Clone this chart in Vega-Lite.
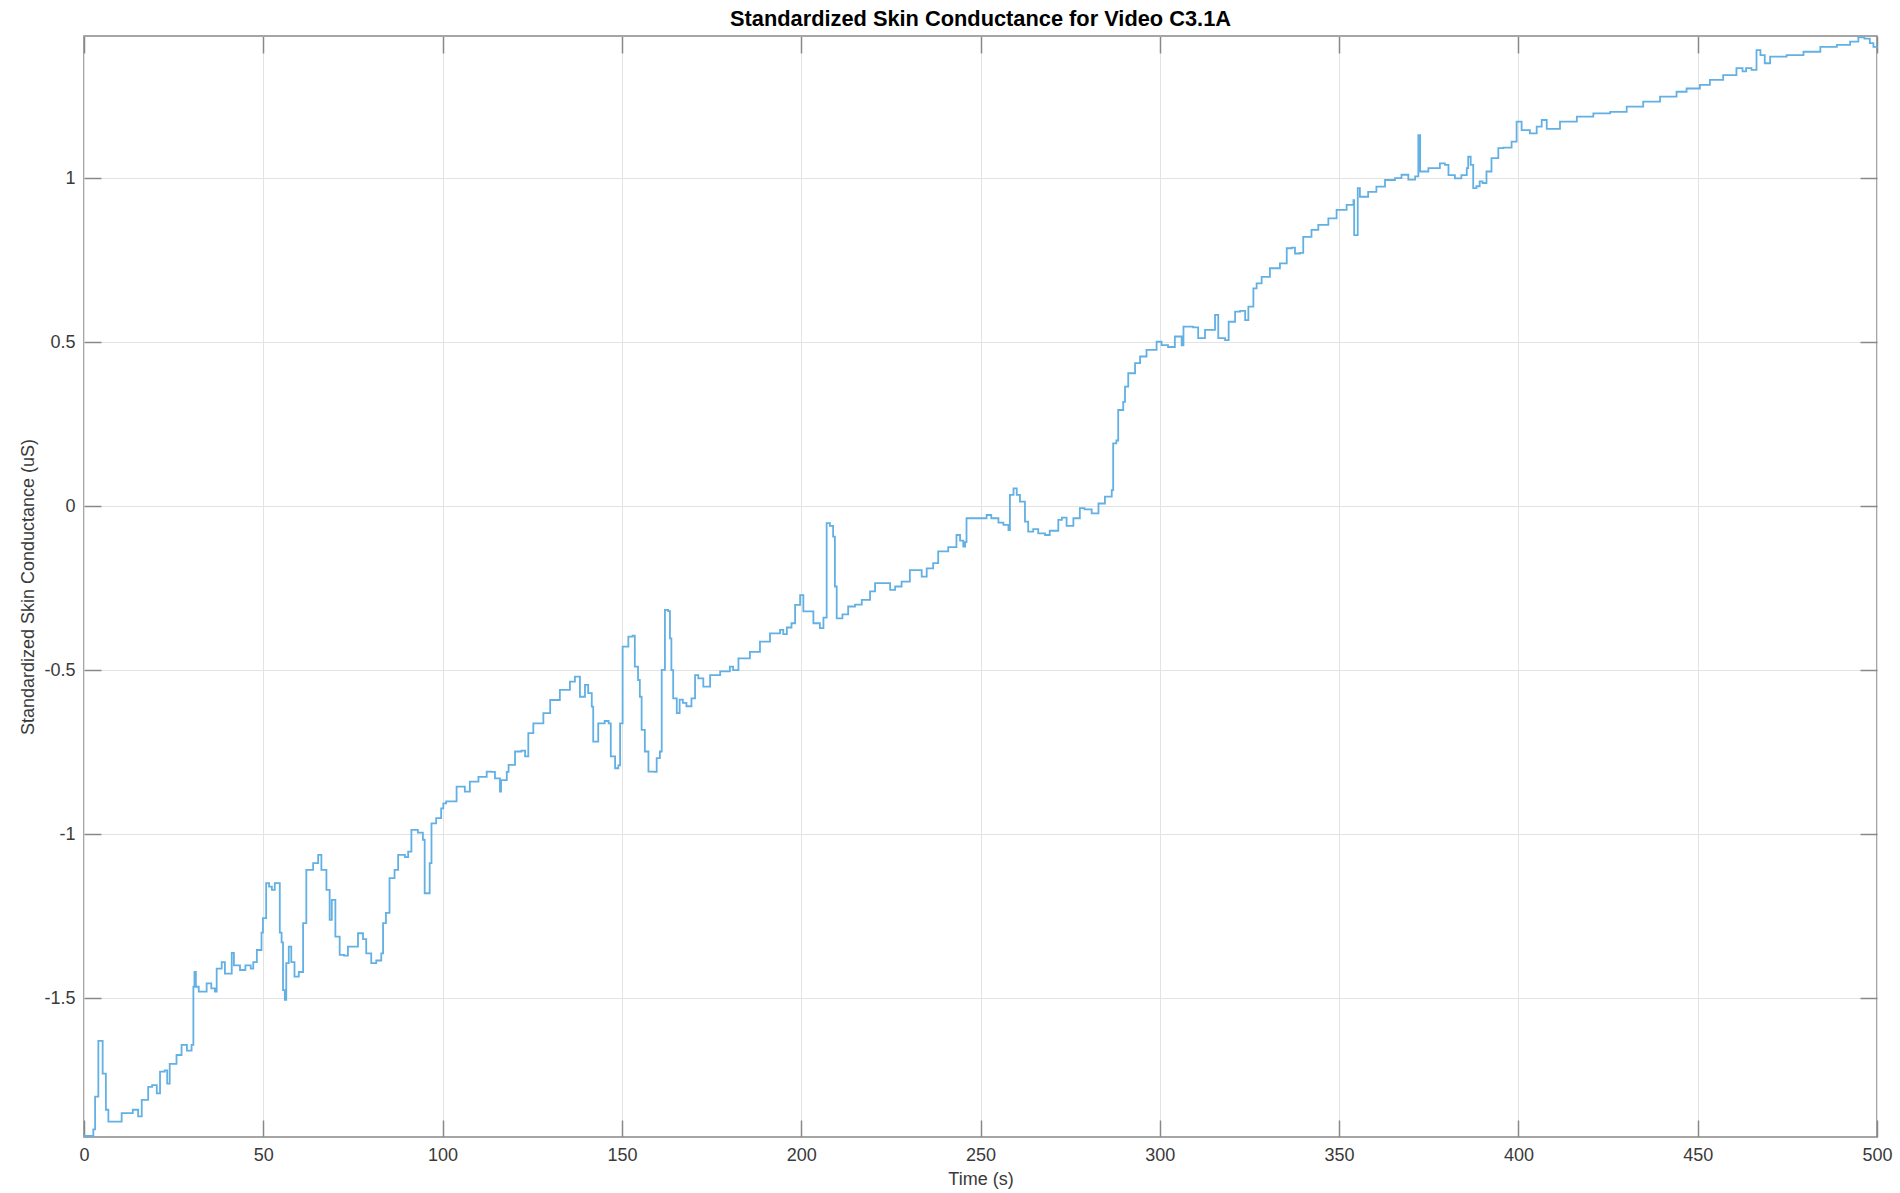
{
  "$schema": "https://vega.github.io/schema/vega-lite/v6.json",
  "width": 1793,
  "height": 1101,
  "autosize": {"type": "none"},
  "padding": {"left": 84, "top": 36, "right": 23, "bottom": 56},
  "background": "white",
  "title": {"text": "Standardized Skin Conductance for Video C3.1A", "font": "Liberation Sans", "fontSize": 21.8, "fontWeight": "bold", "color": "#000000", "anchor": "middle", "offset": 3},
  "config": {
    "view": {"stroke": "#888888", "strokeWidth": 1.5},
    "axis": {"labelFont": "Liberation Sans", "titleFont": "Liberation Sans", "labelFontSize": 18, "titleFontSize": 18, "titleFontWeight": "normal", "labelColor": "#3a3a3a", "titleColor": "#3a3a3a", "tickColor": "#888888", "tickWidth": 1.5, "domain": false, "gridColor": "#e3e3e3", "gridWidth": 1, "labelFlush": false, "labelOverlap": false}
  },
  "data": {"values": [
    {"time": 0, "sc": -1.92}, {"time": 2.6, "sc": -1.9}, {"time": 3.1, "sc": -1.8}, {"time": 4.0, "sc": -1.63}, {"time": 5.2, "sc": -1.73}, {"time": 6.1, "sc": -1.84}, {"time": 6.8, "sc": -1.876}, {"time": 10.5, "sc": -1.85}, {"time": 13.6, "sc": -1.84}, {"time": 15.1, "sc": -1.86}, {"time": 16.1, "sc": -1.81}, {"time": 17.9, "sc": -1.77}, {"time": 19.0, "sc": -1.765}, {"time": 20.3, "sc": -1.79}, {"time": 21.2, "sc": -1.724}, {"time": 22.5, "sc": -1.72}, {"time": 23.2, "sc": -1.76}, {"time": 23.9, "sc": -1.7}, {"time": 25.8, "sc": -1.673}, {"time": 27.2, "sc": -1.642}, {"time": 28.7, "sc": -1.66}, {"time": 30.0, "sc": -1.642}, {"time": 30.5, "sc": -1.465}, {"time": 30.8, "sc": -1.42}, {"time": 31.2, "sc": -1.465}, {"time": 32.0, "sc": -1.48}, {"time": 34.2, "sc": -1.455}, {"time": 35.5, "sc": -1.47}, {"time": 36.5, "sc": -1.48}, {"time": 37.0, "sc": -1.41}, {"time": 38.4, "sc": -1.39}, {"time": 39.3, "sc": -1.425}, {"time": 41.2, "sc": -1.362}, {"time": 41.8, "sc": -1.4}, {"time": 43.5, "sc": -1.414}, {"time": 45.0, "sc": -1.4}, {"time": 46.5, "sc": -1.41}, {"time": 47.2, "sc": -1.39}, {"time": 48.2, "sc": -1.353}, {"time": 49.5, "sc": -1.3}, {"time": 49.9, "sc": -1.256}, {"time": 50.8, "sc": -1.149}, {"time": 51.6, "sc": -1.16}, {"time": 52.4, "sc": -1.17}, {"time": 53.2, "sc": -1.149}, {"time": 54.6, "sc": -1.3}, {"time": 55.1, "sc": -1.33}, {"time": 55.5, "sc": -1.475}, {"time": 56.0, "sc": -1.505}, {"time": 56.4, "sc": -1.393}, {"time": 57.1, "sc": -1.343}, {"time": 57.8, "sc": -1.39}, {"time": 58.7, "sc": -1.434}, {"time": 59.9, "sc": -1.42}, {"time": 61.1, "sc": -1.271}, {"time": 62.0, "sc": -1.109}, {"time": 63.9, "sc": -1.088}, {"time": 65.3, "sc": -1.063}, {"time": 66.2, "sc": -1.109}, {"time": 67.6, "sc": -1.17}, {"time": 68.5, "sc": -1.261}, {"time": 69.1, "sc": -1.2}, {"time": 70.1, "sc": -1.312}, {"time": 71.3, "sc": -1.368}, {"time": 72.5, "sc": -1.37}, {"time": 73.6, "sc": -1.343}, {"time": 75.9, "sc": -1.343}, {"time": 76.4, "sc": -1.302}, {"time": 77.8, "sc": -1.32}, {"time": 78.7, "sc": -1.363}, {"time": 80.1, "sc": -1.393}, {"time": 81.5, "sc": -1.385}, {"time": 82.9, "sc": -1.363}, {"time": 83.4, "sc": -1.271}, {"time": 84.2, "sc": -1.24}, {"time": 85.2, "sc": -1.134}, {"time": 86.6, "sc": -1.109}, {"time": 87.6, "sc": -1.063}, {"time": 89.5, "sc": -1.07}, {"time": 90.4, "sc": -1.053}, {"time": 91.3, "sc": -0.987}, {"time": 93.1, "sc": -0.995}, {"time": 94.5, "sc": -1.017}, {"time": 95.0, "sc": -1.18}, {"time": 95.9, "sc": -1.18}, {"time": 96.4, "sc": -1.088}, {"time": 96.9, "sc": -0.967}, {"time": 98.2, "sc": -0.951}, {"time": 99.6, "sc": -0.921}, {"time": 100.2, "sc": -0.906}, {"time": 101.0, "sc": -0.9}, {"time": 103.9, "sc": -0.855}, {"time": 106.2, "sc": -0.87}, {"time": 107.6, "sc": -0.84}, {"time": 110.0, "sc": -0.825}, {"time": 112.3, "sc": -0.809}, {"time": 113.5, "sc": -0.81}, {"time": 114.6, "sc": -0.83}, {"time": 116.0, "sc": -0.87}, {"time": 116.3, "sc": -0.835}, {"time": 117.9, "sc": -0.81}, {"time": 118.4, "sc": -0.789}, {"time": 120.2, "sc": -0.748}, {"time": 122.0, "sc": -0.745}, {"time": 123.0, "sc": -0.763}, {"time": 123.9, "sc": -0.692}, {"time": 125.3, "sc": -0.662}, {"time": 128.1, "sc": -0.631}, {"time": 130.0, "sc": -0.591}, {"time": 132.7, "sc": -0.56}, {"time": 135.5, "sc": -0.535}, {"time": 136.9, "sc": -0.52}, {"time": 138.3, "sc": -0.581}, {"time": 139.3, "sc": -0.581}, {"time": 139.7, "sc": -0.545}, {"time": 140.6, "sc": -0.57}, {"time": 141.6, "sc": -0.611}, {"time": 142.0, "sc": -0.718}, {"time": 143.0, "sc": -0.718}, {"time": 143.4, "sc": -0.662}, {"time": 145.2, "sc": -0.655}, {"time": 146.3, "sc": -0.662}, {"time": 146.9, "sc": -0.763}, {"time": 148.1, "sc": -0.799}, {"time": 149.0, "sc": -0.79}, {"time": 149.5, "sc": -0.662}, {"time": 150.2, "sc": -0.428}, {"time": 151.8, "sc": -0.398}, {"time": 153.0, "sc": -0.395}, {"time": 153.6, "sc": -0.489}, {"time": 154.5, "sc": -0.53}, {"time": 155.0, "sc": -0.581}, {"time": 155.5, "sc": -0.682}, {"time": 156.4, "sc": -0.748}, {"time": 157.4, "sc": -0.809}, {"time": 159.0, "sc": -0.81}, {"time": 159.7, "sc": -0.768}, {"time": 160.6, "sc": -0.748}, {"time": 161.1, "sc": -0.499}, {"time": 162.0, "sc": -0.316}, {"time": 162.9, "sc": -0.32}, {"time": 163.4, "sc": -0.403}, {"time": 163.8, "sc": -0.5}, {"time": 164.3, "sc": -0.586}, {"time": 165.3, "sc": -0.631}, {"time": 166.1, "sc": -0.59}, {"time": 167.0, "sc": -0.6}, {"time": 168.0, "sc": -0.61}, {"time": 169.4, "sc": -0.586}, {"time": 170.4, "sc": -0.515}, {"time": 171.3, "sc": -0.525}, {"time": 172.7, "sc": -0.55}, {"time": 174.6, "sc": -0.515}, {"time": 177.4, "sc": -0.504}, {"time": 180.1, "sc": -0.489}, {"time": 181.0, "sc": -0.5}, {"time": 182.5, "sc": -0.464}, {"time": 185.7, "sc": -0.444}, {"time": 188.5, "sc": -0.413}, {"time": 191.3, "sc": -0.388}, {"time": 194.1, "sc": -0.377}, {"time": 195.0, "sc": -0.39}, {"time": 196.0, "sc": -0.37}, {"time": 197.3, "sc": -0.357}, {"time": 198.3, "sc": -0.301}, {"time": 199.7, "sc": -0.271}, {"time": 200.6, "sc": -0.321}, {"time": 203.4, "sc": -0.357}, {"time": 205.2, "sc": -0.372}, {"time": 206.2, "sc": -0.34}, {"time": 207.1, "sc": -0.052}, {"time": 208.0, "sc": -0.06}, {"time": 208.9, "sc": -0.093}, {"time": 209.4, "sc": -0.245}, {"time": 209.9, "sc": -0.342}, {"time": 211.5, "sc": -0.33}, {"time": 213.1, "sc": -0.306}, {"time": 215.0, "sc": -0.3}, {"time": 216.9, "sc": -0.286}, {"time": 219.2, "sc": -0.26}, {"time": 220.6, "sc": -0.235}, {"time": 223.2, "sc": -0.235}, {"time": 224.8, "sc": -0.255}, {"time": 226.2, "sc": -0.245}, {"time": 228.0, "sc": -0.23}, {"time": 230.3, "sc": -0.195}, {"time": 232.1, "sc": -0.195}, {"time": 233.6, "sc": -0.215}, {"time": 235.0, "sc": -0.19}, {"time": 236.8, "sc": -0.174}, {"time": 238.2, "sc": -0.138}, {"time": 241.0, "sc": -0.125}, {"time": 243.3, "sc": -0.088}, {"time": 244.3, "sc": -0.105}, {"time": 245.2, "sc": -0.123}, {"time": 245.7, "sc": -0.11}, {"time": 246.1, "sc": -0.037}, {"time": 249.4, "sc": -0.037}, {"time": 251.7, "sc": -0.027}, {"time": 253.0, "sc": -0.037}, {"time": 255.0, "sc": -0.05}, {"time": 256.4, "sc": -0.057}, {"time": 257.8, "sc": -0.073}, {"time": 258.2, "sc": 0.034}, {"time": 259.2, "sc": 0.054}, {"time": 260.1, "sc": 0.034}, {"time": 261.0, "sc": 0.014}, {"time": 262.0, "sc": 0.014}, {"time": 262.4, "sc": -0.047}, {"time": 263.3, "sc": -0.078}, {"time": 264.7, "sc": -0.07}, {"time": 266.1, "sc": -0.083}, {"time": 268.0, "sc": -0.088}, {"time": 269.3, "sc": -0.075}, {"time": 271.7, "sc": -0.042}, {"time": 272.7, "sc": -0.035}, {"time": 274.0, "sc": -0.06}, {"time": 275.9, "sc": -0.037}, {"time": 277.7, "sc": -0.006}, {"time": 279.0, "sc": -0.01}, {"time": 281.0, "sc": -0.022}, {"time": 282.9, "sc": 0.008}, {"time": 284.7, "sc": 0.029}, {"time": 286.6, "sc": 0.049}, {"time": 287.0, "sc": 0.191}, {"time": 287.9, "sc": 0.2}, {"time": 288.4, "sc": 0.293}, {"time": 289.8, "sc": 0.318}, {"time": 290.3, "sc": 0.364}, {"time": 291.2, "sc": 0.405}, {"time": 293.1, "sc": 0.436}, {"time": 294.5, "sc": 0.456}, {"time": 296.3, "sc": 0.476}, {"time": 299.1, "sc": 0.501}, {"time": 300.5, "sc": 0.491}, {"time": 302.3, "sc": 0.485}, {"time": 304.2, "sc": 0.517}, {"time": 306.1, "sc": 0.49}, {"time": 306.6, "sc": 0.547}, {"time": 309.3, "sc": 0.545}, {"time": 310.7, "sc": 0.512}, {"time": 312.6, "sc": 0.537}, {"time": 314.5, "sc": 0.537}, {"time": 315.4, "sc": 0.583}, {"time": 316.3, "sc": 0.512}, {"time": 318.2, "sc": 0.506}, {"time": 319.2, "sc": 0.562}, {"time": 321.0, "sc": 0.593}, {"time": 322.4, "sc": 0.595}, {"time": 323.8, "sc": 0.567}, {"time": 324.7, "sc": 0.608}, {"time": 326.1, "sc": 0.664}, {"time": 327.0, "sc": 0.679}, {"time": 328.4, "sc": 0.699}, {"time": 330.7, "sc": 0.725}, {"time": 333.5, "sc": 0.74}, {"time": 335.4, "sc": 0.786}, {"time": 336.8, "sc": 0.788}, {"time": 337.7, "sc": 0.77}, {"time": 339.1, "sc": 0.772}, {"time": 340.0, "sc": 0.821}, {"time": 342.3, "sc": 0.842}, {"time": 344.2, "sc": 0.857}, {"time": 347.0, "sc": 0.877}, {"time": 349.3, "sc": 0.903}, {"time": 352.1, "sc": 0.918}, {"time": 354.0, "sc": 0.933}, {"time": 354.2, "sc": 0.826}, {"time": 355.2, "sc": 0.969}, {"time": 355.8, "sc": 0.943}, {"time": 358.1, "sc": 0.958}, {"time": 360.4, "sc": 0.974}, {"time": 362.8, "sc": 0.994}, {"time": 365.6, "sc": 1.0}, {"time": 367.4, "sc": 1.01}, {"time": 369.3, "sc": 0.995}, {"time": 371.2, "sc": 1.005}, {"time": 372.1, "sc": 1.131}, {"time": 372.6, "sc": 1.02}, {"time": 374.9, "sc": 1.03}, {"time": 376.7, "sc": 1.03}, {"time": 378.1, "sc": 1.045}, {"time": 379.5, "sc": 1.04}, {"time": 380.5, "sc": 1.009}, {"time": 382.3, "sc": 0.999}, {"time": 384.1, "sc": 1.009}, {"time": 385.6, "sc": 1.03}, {"time": 386.0, "sc": 1.065}, {"time": 386.7, "sc": 1.04}, {"time": 387.4, "sc": 0.969}, {"time": 388.3, "sc": 0.975}, {"time": 389.2, "sc": 0.99}, {"time": 390.0, "sc": 0.985}, {"time": 391.1, "sc": 1.02}, {"time": 392.5, "sc": 1.061}, {"time": 394.4, "sc": 1.091}, {"time": 395.8, "sc": 1.093}, {"time": 398.1, "sc": 1.111}, {"time": 399.5, "sc": 1.172}, {"time": 400.9, "sc": 1.146}, {"time": 403.2, "sc": 1.136}, {"time": 405.1, "sc": 1.157}, {"time": 406.5, "sc": 1.177}, {"time": 407.9, "sc": 1.15}, {"time": 411.6, "sc": 1.172}, {"time": 416.3, "sc": 1.187}, {"time": 420.9, "sc": 1.197}, {"time": 425.6, "sc": 1.202}, {"time": 430.2, "sc": 1.218}, {"time": 434.8, "sc": 1.233}, {"time": 439.5, "sc": 1.248}, {"time": 444.1, "sc": 1.263}, {"time": 446.9, "sc": 1.273}, {"time": 450.6, "sc": 1.284}, {"time": 453.4, "sc": 1.299}, {"time": 457.1, "sc": 1.314}, {"time": 460.8, "sc": 1.335}, {"time": 462.5, "sc": 1.325}, {"time": 463.5, "sc": 1.335}, {"time": 465.0, "sc": 1.33}, {"time": 466.4, "sc": 1.39}, {"time": 467.5, "sc": 1.375}, {"time": 468.7, "sc": 1.35}, {"time": 470.2, "sc": 1.37}, {"time": 474.8, "sc": 1.375}, {"time": 479.5, "sc": 1.385}, {"time": 484.2, "sc": 1.4}, {"time": 488.8, "sc": 1.406}, {"time": 492.5, "sc": 1.416}, {"time": 494.8, "sc": 1.429}, {"time": 496.5, "sc": 1.425}, {"time": 498.0, "sc": 1.411}, {"time": 499.0, "sc": 1.4}, {"time": 500.0, "sc": 1.403}
  ]},
  "layer": [
    {
      "mark": {"type": "line", "interpolate": "step-after", "color": "#62B0E4", "strokeWidth": 1.8},
      "encoding": {
        "x": {"field": "time", "type": "quantitative", "scale": {"domain": [0, 500], "nice": false, "zero": false},
              "axis": {"orient": "bottom", "title": "Time (s)", "values": [0, 50, 100, 150, 200, 250, 300, 350, 400, 450, 500], "grid": true, "tickSize": -17, "labelPadding": 26, "titlePadding": 6}},
        "y": {"field": "sc", "type": "quantitative", "scale": {"domain": [-1.923, 1.433], "nice": false, "zero": false},
              "axis": {"orient": "left", "title": "Standardized Skin Conductance (uS)", "values": [-1.5, -1, -0.5, 0, 0.5, 1], "labelExpr": "datum.value + ''", "grid": true, "tickSize": -17, "labelPadding": 26, "titlePadding": 6}}
      }
    },
    {
      "mark": {"type": "line", "interpolate": "step-after", "opacity": 0},
      "encoding": {
        "x": {"field": "time", "type": "quantitative", "scale": {"domain": [0, 500], "nice": false, "zero": false},
              "axis": {"orient": "top", "title": null, "labels": false, "grid": false, "values": [0, 50, 100, 150, 200, 250, 300, 350, 400, 450, 500], "tickSize": -17}},
        "y": {"field": "sc", "type": "quantitative", "scale": {"domain": [-1.923, 1.433], "nice": false, "zero": false},
              "axis": {"orient": "right", "title": null, "labels": false, "grid": false, "values": [-1.5, -1, -0.5, 0, 0.5, 1], "tickSize": -17}}
      }
    }
  ],
  "resolve": {"axis": {"x": "independent", "y": "independent"}}
}
